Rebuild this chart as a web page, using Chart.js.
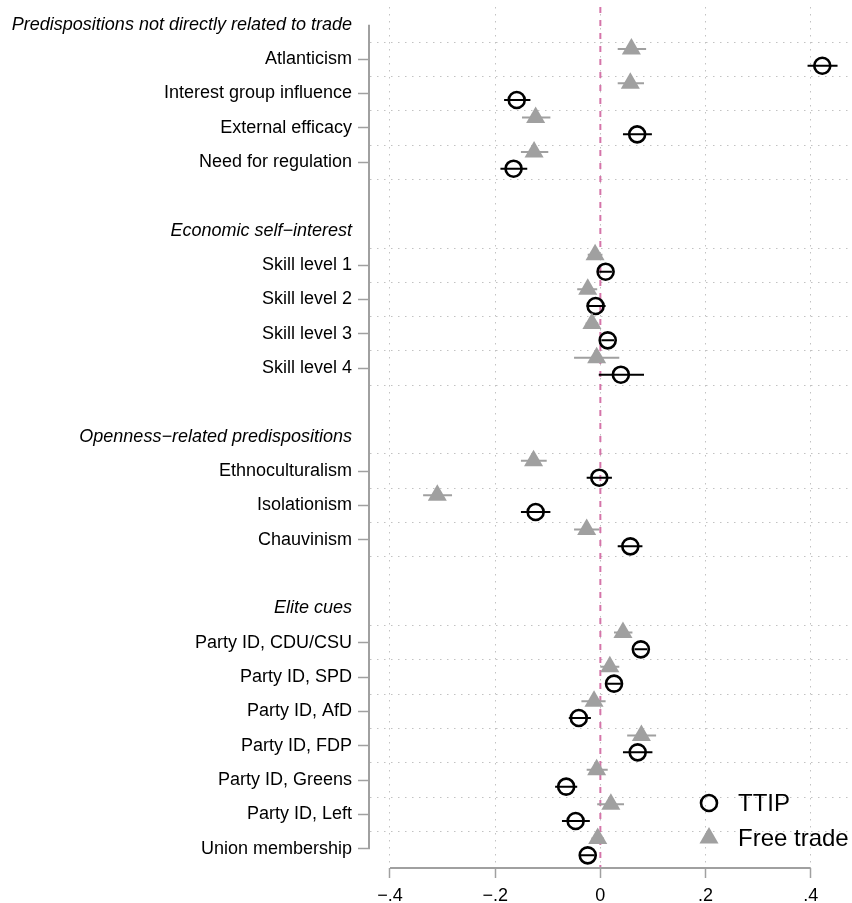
<!DOCTYPE html>
<html>
<head>
<meta charset="utf-8">
<script src="https://cdn.jsdelivr.net/npm/chart.js@4.4.1/dist/chart.umd.min.js"></script>
<style>
html,body{margin:0;padding:0;background:#fff;}
#wrap{position:relative;width:852px;height:903px;overflow:hidden;}
#legend{position:absolute;left:0;top:0;font-family:'Liberation Sans',Arial,Helvetica,sans-serif;font-size:24px;color:#000;}
.item{position:absolute;display:flex;align-items:center;height:28px;white-space:nowrap;}
.item svg{display:block;margin-right:17px;}
</style>
</head>
<body>
<div id="wrap">
  <canvas id="c" width="852" height="903"></canvas>
  <div id="legend"></div>
</div>
<script>
// ---------------- data ----------------
const groupTitles = [
  "Predispositions not directly related to trade",
  "Economic self\u2212interest",
  "Openness\u2212related predispositions",
  "Elite cues"
];
const groupSizes = [4, 4, 3, 7];
const categories = [
  "Atlanticism", "Interest group influence", "External efficacy", "Need for regulation",
  "Skill level 1", "Skill level 2", "Skill level 3", "Skill level 4",
  "Ethnoculturalism", "Isolationism", "Chauvinism",
  "Party ID, CDU/CSU", "Party ID, SPD", "Party ID, AfD", "Party ID, FDP",
  "Party ID, Greens", "Party ID, Left", "Union membership"
];
const seriesNames = ["TTIP", "Free trade"];

const ttipCoef = [0.422, -0.159, 0.070, -0.165,  0.010, -0.009, 0.014, 0.039,  -0.002, -0.123, 0.057,  0.077, 0.026, -0.041, 0.071, -0.065, -0.047, -0.024];
const ttipLow  = [0.394, -0.183, 0.043, -0.190, -0.002, -0.026, 0.002, -0.003, -0.026, -0.151, 0.033,  0.065, 0.013, -0.060, 0.043, -0.086, -0.073, -0.037];
const ttipHigh = [0.451, -0.133, 0.098, -0.139,  0.022,  0.010, 0.026, 0.083,   0.022, -0.095, 0.080,  0.089, 0.039, -0.018, 0.099, -0.044, -0.020, -0.011];

const ftCoef = [0.059, 0.057, -0.123, -0.126, -0.010, -0.024, -0.016, -0.007, -0.127, -0.310, -0.026,  0.043, 0.018, -0.012, 0.078, -0.007, 0.020, -0.005];
const ftLow  = [0.033, 0.033, -0.149, -0.151, -0.024, -0.044, -0.028, -0.050, -0.151, -0.337, -0.050,  0.026, 0.000, -0.036, 0.051, -0.026, -0.006, -0.017];
const ftHigh = [0.087, 0.083, -0.095, -0.099,  0.004, -0.006, -0.004,  0.036, -0.102, -0.282, -0.002,  0.061, 0.036,  0.010, 0.106,  0.014, 0.045,  0.007];

const xTickValues = [-0.4, -0.2, 0, 0.2, 0.4];
const xTickLabels = ["\u2212.4", "\u2212.2", "0", ".2", ".4"];

// ---------------- layout constants ----------------
const X_MIN = -0.438, X_MAX = 0.4785;
const Y_MIN = -0.52, Y_MAX = 24.53;
const TTIP_OFFSET = 0.19, FT_OFFSET = -0.30;
const FONT = "'Liberation Sans', Arial, Helvetica, sans-serif";
const AXIS_GRAY = '#a0a0a0';
const GRID_GRAY = '#c2c2c2';
const FT_GRAY = '#a0a0a0';
const PINK = '#d574a9';

// ---------------- build rows ----------------
const rowLabels = {};
const headerRows = new Set();
const labelRows = [];
const itemRow = [];
const boundaries = [];
let r = 0, ci = 0;
groupTitles.forEach((t, g) => {
  rowLabels[r] = t; headerRows.add(r); labelRows.push(r); r++;
  const first = r;
  for (let k = 0; k < groupSizes[g]; k++) {
    rowLabels[r] = categories[ci]; labelRows.push(r); itemRow[ci] = r; ci++; r++;
  }
  const last = r - 1;
  for (let b = first - 0.5; b <= last + 0.5; b++) boundaries.push(b);
  r++; // blank spacer row
});
const lastRow = itemRow[itemRow.length - 1];
const gridRows = boundaries.filter(b => b < lastRow);

function pointData(vals, off) {
  return vals.map((v, i) => ({x: v, y: itemRow[i] + off}));
}
function ciData(lo, hi, off) {
  const d = [];
  lo.forEach((l, i) => {
    const y = itemRow[i] + off;
    d.push({x: l, y: y}, {x: hi[i], y: y}, {x: null, y: null});
  });
  return d;
}

// ---------------- plugin for partial axis lines ----------------
const axisLines = {
  id: 'axisLines',
  afterDraw(chart) {
    const {ctx, chartArea, scales} = chart;
    const xs = scales.x, ys = scales.y;
    ctx.save();
    ctx.strokeStyle = AXIS_GRAY;
    ctx.lineWidth = 2;
    ctx.beginPath();
    const ax = chartArea.left - 1;
    ctx.moveTo(ax, ys.getPixelForValue(labelRows[0]));
    ctx.lineTo(ax, ys.getPixelForValue(labelRows[labelRows.length - 1]));
    const by = chartArea.bottom + 1;
    ctx.moveTo(xs.getPixelForValue(xTickValues[0]), by);
    ctx.lineTo(xs.getPixelForValue(xTickValues[xTickValues.length - 1]), by);
    ctx.stroke();
    ctx.restore();
  }
};

const noPad = s => { s.paddingLeft = 0; s.paddingRight = 0; s.paddingTop = 0; s.paddingBottom = 0; };

Chart.defaults.font.family = FONT;
Chart.defaults.color = '#000';

new Chart(document.getElementById('c'), {
  type: 'scatter',
  data: {
    datasets: [
      { label: seriesNames[1], data: pointData(ftCoef, FT_OFFSET), order: 1,
        pointStyle: 'triangle', pointRadius: 11, pointBackgroundColor: FT_GRAY,
        pointBorderColor: FT_GRAY, pointBorderWidth: 0, showLine: false },
      { label: seriesNames[1] + ' CI', data: ciData(ftLow, ftHigh, FT_OFFSET), order: 2,
        showLine: true, borderColor: FT_GRAY, borderWidth: 2, pointRadius: 0, spanGaps: false },
      { label: seriesNames[0], data: pointData(ttipCoef, TTIP_OFFSET), order: 3,
        pointStyle: 'circle', pointRadius: 8, pointBackgroundColor: 'rgba(0,0,0,0)',
        pointBorderColor: '#000', pointBorderWidth: 2.6, showLine: false },
      { label: seriesNames[0] + ' CI', data: ciData(ttipLow, ttipHigh, TTIP_OFFSET), order: 4,
        showLine: true, borderColor: '#000', borderWidth: 2, pointRadius: 0, spanGaps: false },
      { label: 'zero', data: [{x: 0, y: Y_MIN}, {x: 0, y: Y_MAX}], order: 5,
        showLine: true, borderColor: PINK, borderWidth: 2, borderDash: [6, 7], pointRadius: 0 }
    ]
  },
  options: {
    responsive: false,
    animation: false,
    events: [],
    layout: { autoPadding: false, padding: { top: 7, left: 0, right: 0, bottom: 0 } },
    plugins: { legend: { display: false }, tooltip: { enabled: false } },
    scales: {
      x: {
        type: 'linear', position: 'bottom', min: X_MIN, max: X_MAX,
        afterBuildTicks: s => { s.ticks = xTickValues.map(v => ({value: v})); },
        afterFit: s => { s.height = 36; noPad(s); },
        ticks: { callback: (v, i) => xTickLabels[i], padding: 7, font: { size: 18 }, color: '#000', autoSkip: false, maxRotation: 0 },
        grid: { color: GRID_GRAY, lineWidth: 1, drawTicks: true, tickLength: 11, tickColor: AXIS_GRAY, tickWidth: 1.5 },
        border: { display: true, color: 'rgba(0,0,0,0)', dash: [1.5, 5.5] }
      },
      y: {
        type: 'linear', position: 'left', min: Y_MIN, max: Y_MAX, reverse: true,
        afterBuildTicks: s => { s.ticks = labelRows.map(v => ({value: v})); },
        afterFit: s => { s.width = 370; noPad(s); },
        ticks: {
          callback: v => rowLabels[v],
          autoSkip: false, padding: 6, color: '#000',
          font: ctx => ({ family: FONT, size: 18, style: (ctx.tick && headerRows.has(ctx.tick.value)) ? 'italic' : 'normal' })
        },
        grid: {
          drawOnChartArea: false, drawTicks: true, tickLength: 12, tickWidth: 1.5,
          tickColor: ctx => (ctx.tick && headerRows.has(ctx.tick.value)) ? 'rgba(0,0,0,0)' : AXIS_GRAY
        },
        border: { display: false }
      },
      yg: {
        type: 'linear', position: 'right', min: Y_MIN, max: Y_MAX, reverse: true,
        afterBuildTicks: s => { s.ticks = gridRows.map(v => ({value: v})); },
        afterFit: s => { s.width = 0; noPad(s); },
        ticks: { display: false },
        grid: { color: GRID_GRAY, lineWidth: 1, drawTicks: false, drawOnChartArea: true },
        border: { display: true, color: 'rgba(0,0,0,0)', dash: [1.5, 5.5] }
      }
    }
  },
  plugins: [axisLines]
});

// ---------------- legend (HTML overlay) ----------------
const legend = document.getElementById('legend');
const markerSvgs = [
  '<svg width="24" height="24"><circle cx="12" cy="12" r="8" fill="none" stroke="#000" stroke-width="2.6"/></svg>',
  '<svg width="24" height="24"><polygon points="12,1 21.53,17.5 2.47,17.5" fill="' + FT_GRAY + '"/></svg>'
];
const legendCenters = [803, 838];
seriesNames.forEach((name, i) => {
  const d = document.createElement('div');
  d.className = 'item';
  d.style.left = '697px';
  d.style.top = (legendCenters[i] - 14) + 'px';
  d.innerHTML = markerSvgs[i] + '<span>' + name + '</span>';
  legend.appendChild(d);
});
</script>
</body>
</html>
